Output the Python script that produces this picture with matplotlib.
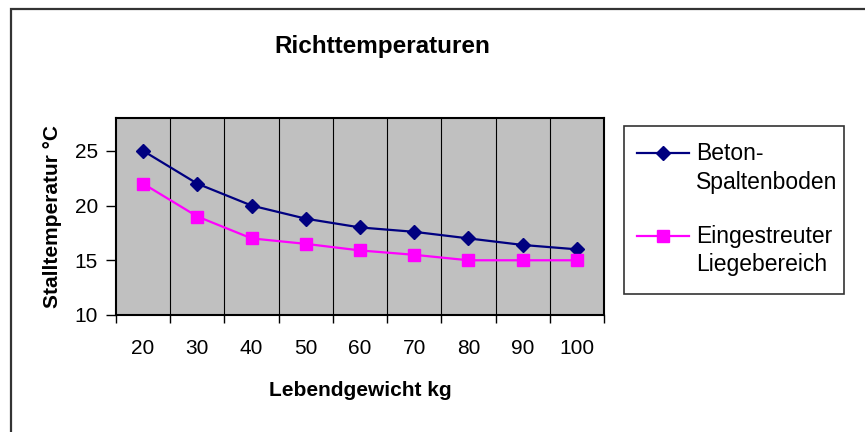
import numpy as np
import matplotlib
matplotlib.use("Agg")
import matplotlib.pyplot as plt
from matplotlib.patches import Rectangle
from matplotlib.lines import Line2D

plt.rcParams['font.family'] = ['Liberation Sans', 'DejaVu Sans']

## data
gewicht = ['20', '30', '40', '50', '60', '70', '80', '90', '100']
beton = [25, 22, 20, 18.8, 18, 17.6, 17, 16.4, 16]
eingestreut = [22, 19, 17, 16.5, 15.9, 15.5, 15, 15, 15]
serien = ['Beton-\nSpaltenboden', 'Eingestreuter\nLiegebereich']

W, H = 865, 432
fig = plt.figure(figsize=(W/100, H/100), dpi=100)

# outer chart frame (runs off right and bottom edge)
fig.patches.append(Rectangle((10.5/W, -0.1), 1.2, 1.1 - 9.5/H,
                             transform=fig.transFigure, fill=False,
                             edgecolor='#333333', linewidth=1.6))

ax = fig.add_axes([116/W, 1 - 315/H, (604-116)/W, (315-118)/H])
ax.set_facecolor('#C0C0C0')

x = np.arange(len(gewicht))
stile = [dict(color='#000080', marker='D', ms=7),
         dict(color='#FF00FF', marker='s', ms=8)]
ax.plot(x, beton, lw=1.6, **stile[0])
ax.plot(x, eingestreut, lw=1.6, **stile[1])

ax.set_xlim(-0.5, len(gewicht) - 0.5)
ax.set_ylim(10, 28)
ax.set_yticks([10, 15, 20, 25])

# tick marks at category borders, labels at category centres
ax.set_xticks(np.arange(-0.5, len(gewicht)))
ax.set_xticklabels([])
ax.set_xticks(x, minor=True)
ax.set_xticklabels(gewicht, minor=True)
ax.tick_params(axis='x', which='major', direction='out', length=6, width=1)
ax.tick_params(axis='x', which='minor', length=0, pad=17, labelsize=15)
ax.tick_params(axis='y', direction='out', length=7, width=1, labelsize=15, pad=6)

for b in np.arange(0.5, len(gewicht) - 1):
    ax.axvline(b, color='black', lw=0.8, zorder=1)

for s in ax.spines.values():
    s.set_linewidth(1.5)
    s.set_color('black')

ax.set_xlabel('Lebendgewicht kg', fontsize=15, fontweight='bold', labelpad=17)
ax.set_ylabel('Stalltemperatur °C', fontsize=15, fontweight='bold', labelpad=9)
fig.text(382/W, 1 - 46/H, 'Richttemperaturen', fontsize=17.5,
         fontweight='bold', ha='center', va='center')

# legend box drawn by hand so the handle sits at the first text line
fig.patches.append(Rectangle((624/W, 1 - 294/H), 220/W, 168/H,
                             transform=fig.transFigure, fill=True,
                             facecolor='white', edgecolor='#333333',
                             linewidth=1.2))
for i, (lab, st) in enumerate(zip(serien, stile)):
    y0 = 1 - (153 + 83*i)/H
    fig.add_artist(Line2D([637/W, 663/W, 689/W], [y0, y0, y0], lw=1.6,
                          markevery=[1], transform=fig.transFigure, **st))
    for j, zeile in enumerate(lab.split('\n')):
        fig.text(696/W, y0 - j*29/H, zeile, fontsize=16.5,
                 ha='left', va='center')

fig.savefig('out.png', dpi=100)
